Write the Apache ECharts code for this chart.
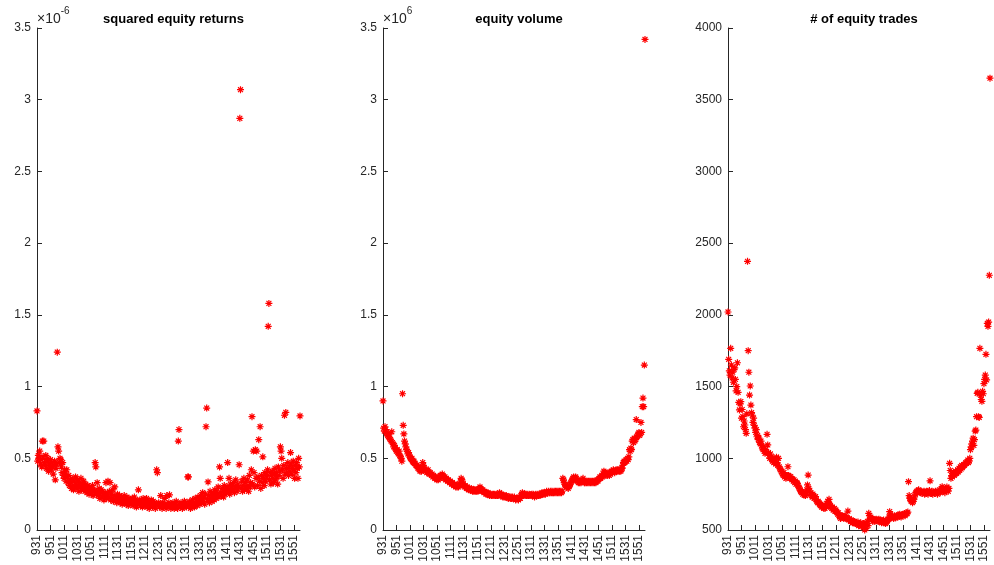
<!DOCTYPE html>
<html>
<head>
<meta charset="utf-8">
<script src="https://cdn.jsdelivr.net/npm/echarts@6/dist/echarts.min.js"></script>
<style>
  html, body { margin: 0; padding: 0; background: #fff; }
  #main { width: 994px; height: 565px; }
</style>
</head>
<body>
<div id="main"></div>
<script>
// minutes of the trading day, 9:31 .. 16:00, written as HHMM
var minutes = [];
for (var m = 0; m < 390; m++) {
  var t = 9 * 60 + 31 + m;
  minutes.push(String(Math.floor(t / 60) * 100 + (t % 60)));
}

// squared equity returns, in units of 1e-6
var sqReturns = [
  0.83, 0.48, 0.52, 0.50, 0.55, 0.46, 0.49, 0.44, 0.62, 0.51,
  0.62, 0.47, 0.45, 0.52, 0.43, 0.48, 0.50, 0.41, 0.46, 0.44,
  0.49, 0.42, 0.47, 0.44, 0.39, 0.45, 0.48, 0.35, 0.43, 0.46,
  1.24, 0.58, 0.55, 0.47, 0.50, 0.49, 0.44, 0.40, 0.47, 0.38,
  0.36, 0.42, 0.39, 0.34, 0.42, 0.37, 0.33, 0.38, 0.31, 0.35,
  0.33, 0.29, 0.36, 0.31, 0.28, 0.34, 0.30, 0.37, 0.32, 0.29,
  0.35, 0.31, 0.27, 0.33, 0.30, 0.36, 0.28, 0.32, 0.29, 0.34,
  0.30, 0.27, 0.32, 0.29, 0.26, 0.31, 0.28, 0.25, 0.30, 0.27,
  0.29, 0.26, 0.31, 0.24, 0.28, 0.27, 0.47, 0.44, 0.25, 0.33,
  0.27, 0.24, 0.29, 0.22, 0.26, 0.28, 0.23, 0.27, 0.25, 0.21,
  0.24, 0.26, 0.33, 0.22, 0.25, 0.34, 0.23, 0.27, 0.33, 0.21,
  0.25, 0.22, 0.28, 0.20, 0.24, 0.30, 0.21, 0.23, 0.19, 0.25,
  0.22, 0.20, 0.24, 0.19, 0.21, 0.23, 0.18, 0.22, 0.20, 0.24,
  0.19, 0.21, 0.18, 0.23, 0.20, 0.17, 0.22, 0.19, 0.21, 0.18,
  0.20, 0.22, 0.17, 0.19, 0.23, 0.18, 0.21, 0.16, 0.20, 0.19,
  0.28, 0.18, 0.21, 0.17, 0.20, 0.19, 0.16, 0.22, 0.18, 0.20,
  0.17, 0.19, 0.22, 0.16, 0.18, 0.20, 0.15, 0.19, 0.17, 0.21,
  0.18, 0.16, 0.20, 0.17, 0.19, 0.15, 0.18, 0.42, 0.40, 0.17,
  0.19, 0.16, 0.18, 0.24, 0.17, 0.15, 0.19, 0.16, 0.18, 0.22,
  0.17, 0.15, 0.24, 0.18, 0.16, 0.19, 0.245, 0.17, 0.15, 0.18,
  0.16, 0.19, 0.17, 0.15, 0.18, 0.16, 0.20, 0.17, 0.15, 0.62,
  0.70, 0.18, 0.16, 0.19, 0.17, 0.15, 0.18, 0.16, 0.20, 0.17,
  0.19, 0.16, 0.18, 0.37, 0.37, 0.17, 0.20, 0.15, 0.18, 0.16,
  0.21, 0.17, 0.19, 0.16, 0.22, 0.18, 0.20, 0.17, 0.23, 0.19,
  0.21, 0.18, 0.24, 0.19, 0.22, 0.26, 0.20, 0.23, 0.18, 0.25,
  0.72, 0.85, 0.21, 0.335, 0.24, 0.19, 0.27, 0.22, 0.25, 0.20,
  0.23, 0.26, 0.21, 0.28, 0.24, 0.22, 0.27, 0.25, 0.30, 0.23,
  0.44, 0.36, 0.26, 0.24, 0.29, 0.27, 0.23, 0.31, 0.25, 0.28,
  0.26, 0.30, 0.47, 0.28, 0.36, 0.25, 0.32, 0.29, 0.27, 0.31,
  0.28, 0.33, 0.26, 0.30, 0.35, 0.29, 0.27, 0.32, 0.30, 0.455,
  2.87, 3.07, 0.29, 0.34, 0.27, 0.31, 0.36, 0.28, 0.33, 0.30,
  0.29, 0.35, 0.31, 0.27, 0.38, 0.30, 0.33, 0.42, 0.79, 0.32,
  0.55, 0.40, 0.30, 0.56, 0.36, 0.55, 0.31, 0.37, 0.63, 0.34,
  0.72, 0.29, 0.38, 0.33, 0.51, 0.36, 0.31, 0.40, 0.34, 0.39,
  0.37, 0.42, 1.42, 1.58, 0.35, 0.40, 0.32, 0.38, 0.41, 0.36,
  0.33, 0.39, 0.43, 0.35, 0.40, 0.37, 0.32, 0.44, 0.38, 0.41,
  0.58, 0.55, 0.50, 0.42, 0.36, 0.45, 0.80, 0.39, 0.82, 0.43,
  0.40, 0.47, 0.38, 0.44, 0.41, 0.54, 0.46, 0.39, 0.43, 0.48,
  0.42, 0.36, 0.45, 0.40, 0.47, 0.43, 0.36, 0.50, 0.44, 0.795
];

// equity volume, in units of 1e6
var volume = [
  0.90, 0.71, 0.69, 0.72, 0.70, 0.68, 0.67, 0.66, 0.65, 0.67,
  0.64, 0.63, 0.62, 0.685, 0.61, 0.60, 0.58, 0.59, 0.57, 0.56,
  0.55, 0.56, 0.54, 0.53, 0.55, 0.52, 0.51, 0.50, 0.48, 0.95,
  0.73, 0.67, 0.62, 0.60, 0.58, 0.56, 0.55, 0.53, 0.54, 0.52,
  0.51, 0.50, 0.49, 0.50, 0.48, 0.47, 0.48, 0.465, 0.46, 0.45,
  0.45, 0.44, 0.43, 0.44, 0.42, 0.41, 0.42, 0.41, 0.43, 0.47,
  0.45, 0.43, 0.42, 0.41, 0.42, 0.40, 0.41, 0.42, 0.40, 0.39,
  0.40, 0.39, 0.38, 0.39, 0.37, 0.38, 0.37, 0.36, 0.37, 0.36,
  0.35, 0.36, 0.35, 0.37, 0.36, 0.38, 0.37, 0.38, 0.39, 0.38,
  0.37, 0.36, 0.37, 0.35, 0.36, 0.35, 0.34, 0.35, 0.34, 0.33,
  0.34, 0.33, 0.32, 0.33, 0.32, 0.31, 0.32, 0.31, 0.30, 0.31,
  0.30, 0.31, 0.30, 0.31, 0.32, 0.34, 0.36, 0.35, 0.34, 0.32,
  0.31, 0.30, 0.31, 0.30, 0.29, 0.30, 0.29, 0.28, 0.29, 0.28,
  0.28, 0.29, 0.28, 0.27, 0.28, 0.27, 0.28, 0.27, 0.28, 0.27,
  0.28, 0.27, 0.28, 0.29, 0.30, 0.29, 0.28, 0.27, 0.28, 0.27,
  0.26, 0.27, 0.26, 0.25, 0.26, 0.25, 0.26, 0.25, 0.24, 0.25,
  0.245, 0.24, 0.25, 0.24, 0.25, 0.24, 0.25, 0.24, 0.24, 0.25,
  0.24, 0.25, 0.24, 0.26, 0.25, 0.24, 0.25, 0.24, 0.23, 0.24,
  0.23, 0.24, 0.23, 0.24, 0.23, 0.23, 0.22, 0.23, 0.23, 0.22,
  0.23, 0.22, 0.23, 0.22, 0.22, 0.23, 0.22, 0.21, 0.22, 0.22,
  0.22, 0.21, 0.22, 0.23, 0.22, 0.24, 0.25, 0.26, 0.25, 0.24,
  0.25, 0.24, 0.25, 0.24, 0.25, 0.24, 0.24, 0.25, 0.24, 0.245,
  0.24, 0.25, 0.24, 0.25, 0.24, 0.23, 0.24, 0.25, 0.24, 0.24,
  0.25, 0.24, 0.25, 0.24, 0.245, 0.25, 0.26, 0.25, 0.26, 0.25,
  0.26, 0.25, 0.26, 0.27, 0.26, 0.26, 0.27, 0.26, 0.26, 0.27,
  0.26, 0.27, 0.26, 0.26, 0.27, 0.26, 0.27, 0.26, 0.27, 0.26,
  0.27, 0.26, 0.27, 0.26, 0.27, 0.26, 0.27, 0.36, 0.35, 0.33,
  0.32, 0.31, 0.30, 0.30, 0.30, 0.29, 0.30, 0.31, 0.32, 0.33,
  0.34, 0.35, 0.36, 0.37, 0.36, 0.35, 0.37, 0.36, 0.35, 0.34,
  0.33, 0.34, 0.33, 0.34, 0.33, 0.34, 0.35, 0.36, 0.34, 0.33,
  0.33, 0.34, 0.33, 0.34, 0.33, 0.34, 0.33, 0.34, 0.33, 0.34,
  0.33, 0.34, 0.33, 0.34, 0.33, 0.34, 0.33, 0.34, 0.35, 0.34,
  0.35, 0.36, 0.37, 0.36, 0.37, 0.38, 0.37, 0.39, 0.41, 0.40,
  0.39, 0.38, 0.39, 0.38, 0.40, 0.39, 0.38, 0.40, 0.39, 0.41,
  0.40, 0.41, 0.42, 0.41, 0.40, 0.41, 0.42, 0.41, 0.42, 0.41,
  0.42, 0.41, 0.42, 0.41, 0.42, 0.43, 0.45, 0.47, 0.48, 0.47,
  0.48, 0.49, 0.48, 0.50, 0.49, 0.51, 0.56, 0.55, 0.57, 0.56,
  0.62, 0.63, 0.61, 0.64, 0.62, 0.63, 0.77, 0.65, 0.66, 0.67,
  0.68, 0.66, 0.67, 0.75, 0.68, 0.86, 0.92, 0.86, 1.15, 3.42
];

// number of equity trades
var trades = [
  2020, 1690, 1610, 1580, 1767, 1650, 1560, 1600, 1530, 1620,
  1630, 1550, 1470, 1500, 1666, 1460, 1390, 1337, 1380, 1395,
  1280, 1340, 1290, 1220, 1260, 1232, 1200, 1174, 1310, 2373,
  1750, 1600, 1441, 1504, 1371, 1318, 1300, 1250, 1280, 1230,
  1210, 1180, 1200, 1150, 1160, 1130, 1140, 1110, 1100, 1120,
  1090, 1070, 1060, 1080, 1050, 1035, 1060, 1040, 1167, 1093,
  1040, 1020, 1000, 1030, 1010, 990, 980, 1000, 970, 990,
  980, 960, 1008, 970, 950, 1000, 940, 930, 920, 907,
  910, 890, 880, 900, 870, 880, 860, 870, 880, 941,
  880, 870, 860, 872, 860, 850, 855, 840, 850, 830,
  840, 820, 830, 825, 810, 800, 790, 780, 770, 760,
  770, 750, 760, 744, 750, 740, 760, 780, 814, 883,
  790, 770, 750, 760, 740, 730, 750, 740, 720, 730,
  732, 710, 700, 690, 700, 690, 680, 670, 680, 660,
  670, 660, 651, 660, 650, 670, 660, 680, 700, 690,
  714, 680, 670, 660, 650, 660, 640, 640, 650, 630,
  640, 630, 620, 610, 620, 600, 590, 581, 600, 590,
  600, 590, 580, 590, 600, 580, 590, 580, 632, 570,
  580, 570, 560, 570, 560, 550, 560, 550, 560, 545,
  550, 547, 540, 555, 530, 545, 535, 550, 525, 540,
  530, 545, 520, 500, 540, 512, 550, 560, 530, 616,
  600, 580, 590, 570, 580, 560, 575, 570, 560, 570,
  575, 565, 570, 560, 575, 565, 570, 560, 550, 565,
  560, 570, 550, 560, 545, 555, 560, 565, 575, 590,
  628, 610, 590, 585, 595, 590, 580, 600, 590, 585,
  595, 600, 590, 605, 595, 610, 600, 590, 605, 600,
  610, 605, 615, 600, 610, 620, 615, 625, 837, 740,
  720, 710, 700, 705, 690, 700, 715, 730, 750, 760,
  770, 760, 775, 780, 770, 765, 760, 770, 755, 765,
  760, 770, 750, 765, 755, 770, 760, 750, 765, 775,
  843, 760, 755, 770, 750, 765, 760, 755, 770, 760,
  765, 750, 760, 770, 780, 760, 770, 790, 802, 780,
  770, 780, 760, 790, 775, 800, 780, 770, 790, 965,
  915, 860, 880, 870, 890, 900, 880, 890, 910, 895,
  900, 920, 905, 930, 915, 940, 925, 950, 935, 945,
  955, 950, 960, 970, 965, 975, 988, 970, 980, 1000,
  1060, 1080, 1100, 1120, 1140, 1090, 1130, 1190, 1197, 1290,
  1453, 1460, 1290, 1285, 1767, 1440, 1410, 1397, 1467, 1450,
  1520, 1550, 1580, 1725, 1546, 1941, 1920, 1950, 2276, 3650
];

var titles = ['squared equity returns', 'equity volume', '# of equity trades'];
var exponents = ['-6', '6', ''];

var axisColor = '#262626';
var fontFamily = '"Liberation Sans", Arial, Helvetica, sans-serif';
// MATLAB style '*' marker
var star = 'path://M0,5L10,5M5,0L5,10M1.5,1.5L8.5,8.5M8.5,1.5L1.5,8.5';

var chart = echarts.init(document.getElementById('main'));

var grids = [
  { left: 37, top: 28, width: 263, height: 502 },
  { left: 383, top: 28, width: 262, height: 502 },
  { left: 728, top: 28, width: 262, height: 502 }
];

function xAxisFor(i) {
  return {
    type: 'category',
    gridIndex: i,
    data: minutes,
    boundaryGap: false,
    axisLine: { lineStyle: { color: axisColor, width: 1 } },
    axisTick: { inside: true, length: 5, interval: 19, lineStyle: { color: axisColor } },
    axisLabel: { interval: 19, rotate: 90, margin: 5, color: axisColor, fontSize: 12, fontFamily: fontFamily },
    splitLine: { show: false }
  };
}

function yAxisFor(i, min, max, step) {
  var ax = {
    type: 'value',
    gridIndex: i,
    min: min,
    max: max,
    interval: step,
    axisLine: { show: true, lineStyle: { color: axisColor, width: 1 } },
    axisTick: { show: true, inside: true, length: 5, lineStyle: { color: axisColor } },
    axisLabel: {
      margin: 6, color: axisColor, fontSize: 12, fontFamily: fontFamily,
      formatter: function (v) { return String(v); }
    },
    splitLine: { show: false }
  };
  if (exponents[i]) {
    ax.name = '{b|×10}{e|' + exponents[i] + '}';
    ax.nameLocation = 'end';
    ax.nameGap = 2;
    ax.nameTextStyle = {
      align: 'left',
      rich: {
        b: { fontSize: 14, color: axisColor, fontFamily: fontFamily, verticalAlign: 'bottom', lineHeight: 20 },
        e: { fontSize: 10, color: axisColor, fontFamily: fontFamily, verticalAlign: 'top', lineHeight: 20 }
      }
    };
  }
  return ax;
}

function seriesFor(i, values) {
  return {
    type: 'scatter',
    xAxisIndex: i,
    yAxisIndex: i,
    data: values,
    symbol: star,
    symbolSize: 7,
    itemStyle: { color: 'rgba(0,0,0,0)', borderColor: '#ff0000', borderWidth: 1.2, opacity: 1 },
    emphasis: { disabled: true },
    animation: false
  };
}

var option = {
  backgroundColor: '#ffffff',
  animation: false,
  title: titles.map(function (t, i) {
    return {
      text: t,
      left: grids[i].left + grids[i].width / 2,
      top: 8,
      textAlign: 'center',
      textStyle: { fontSize: 13, fontWeight: 'bold', color: '#000', fontFamily: fontFamily }
    };
  }),
  grid: grids,
  xAxis: [xAxisFor(0), xAxisFor(1), xAxisFor(2)],
  yAxis: [yAxisFor(0, 0, 3.5, 0.5), yAxisFor(1, 0, 3.5, 0.5), yAxisFor(2, 500, 4000, 500)],
  series: [seriesFor(0, sqReturns), seriesFor(1, volume), seriesFor(2, trades)]
};

chart.setOption(option);
</script>
</body>
</html>
